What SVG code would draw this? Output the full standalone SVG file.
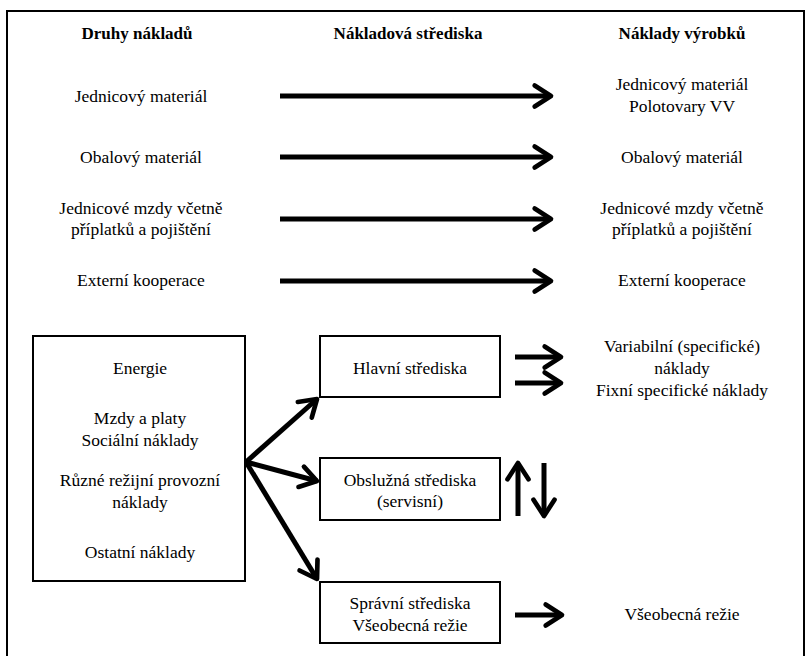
<svg xmlns="http://www.w3.org/2000/svg" width="811" height="656" viewBox="0 0 811 656">
<defs>
<marker id="ah" viewBox="0 0 12 12" refX="10" refY="6" markerWidth="5.6" markerHeight="5.6" markerUnits="strokeWidth" orient="auto">
<path d="M3,1.5 L10,6 L3,10.5" fill="none" stroke="#000" stroke-width="2" stroke-linecap="round" stroke-linejoin="round"/>
</marker>
</defs>
<style>
.box{fill:#fff;stroke:#000;stroke-width:2}
.c{fill:none;stroke:#000;stroke-width:5;marker-end:url(#ah)}
</style>
<rect x="0" y="0" width="811" height="656" fill="#fff"/>
<path d="M7,660 L7,11 L804,11 L804,660" fill="none" stroke="#000" stroke-width="2"/>
<g id="headers">
<text x="137" y="39" font-family="Liberation Serif, serif" font-size="17" font-weight="bold" text-anchor="middle">Druhy nákladů</text>
<text x="408" y="39" font-family="Liberation Serif, serif" font-size="17" font-weight="bold" text-anchor="middle">Nákladová střediska</text>
<text x="682" y="39" font-family="Liberation Serif, serif" font-size="17" font-weight="bold" text-anchor="middle">Náklady výrobků</text>
</g>
<g id="left-items">
<text x="141" y="102" font-family="Liberation Serif, serif" font-size="17.5" text-anchor="middle">Jednicový materiál</text>
<text x="141" y="163" font-family="Liberation Serif, serif" font-size="17.5" text-anchor="middle">Obalový materiál</text>
<text x="141" y="214" font-family="Liberation Serif, serif" font-size="17.5" text-anchor="middle">Jednicové mzdy včetně</text>
<text x="141" y="235" font-family="Liberation Serif, serif" font-size="17.5" text-anchor="middle">příplatků a pojištění</text>
<text x="141" y="286" font-family="Liberation Serif, serif" font-size="17.5" text-anchor="middle">Externí kooperace</text>
</g>
<g id="right-items">
<text x="682" y="90" font-family="Liberation Serif, serif" font-size="17.5" text-anchor="middle">Jednicový materiál</text>
<text x="682" y="112" font-family="Liberation Serif, serif" font-size="17.5" text-anchor="middle">Polotovary VV</text>
<text x="682" y="163" font-family="Liberation Serif, serif" font-size="17.5" text-anchor="middle">Obalový materiál</text>
<text x="682" y="214" font-family="Liberation Serif, serif" font-size="17.5" text-anchor="middle">Jednicové mzdy včetně</text>
<text x="682" y="235" font-family="Liberation Serif, serif" font-size="17.5" text-anchor="middle">příplatků a pojištění</text>
<text x="682" y="286" font-family="Liberation Serif, serif" font-size="17.5" text-anchor="middle">Externí kooperace</text>
<text x="682" y="352" font-family="Liberation Serif, serif" font-size="17.5" text-anchor="middle">Variabilní (specifické)</text>
<text x="682" y="374" font-family="Liberation Serif, serif" font-size="17.5" text-anchor="middle">náklady</text>
<text x="682" y="396" font-family="Liberation Serif, serif" font-size="17.5" text-anchor="middle">Fixní specifické náklady</text>
<text x="682" y="620" font-family="Liberation Serif, serif" font-size="17.5" text-anchor="middle">Všeobecná režie</text>
</g>
<g id="overheads">
<rect class="box" x="33" y="336" width="212" height="245"/>
<text x="140" y="374" font-family="Liberation Serif, serif" font-size="17.5" text-anchor="middle">Energie</text>
<text x="140" y="424" font-family="Liberation Serif, serif" font-size="17.5" text-anchor="middle">Mzdy a platy</text>
<text x="140" y="446" font-family="Liberation Serif, serif" font-size="17.5" text-anchor="middle">Sociální náklady</text>
<text x="140" y="486" font-family="Liberation Serif, serif" font-size="17.5" text-anchor="middle">Různé režijní provozní</text>
<text x="140" y="508" font-family="Liberation Serif, serif" font-size="17.5" text-anchor="middle">náklady</text>
<text x="140" y="558" font-family="Liberation Serif, serif" font-size="17.5" text-anchor="middle">Ostatní náklady</text>
</g>
<g id="hlavni">
<rect class="box" x="320" y="336" width="180" height="61"/>
<text x="410" y="374" font-family="Liberation Serif, serif" font-size="17.5" text-anchor="middle">Hlavní střediska</text>
</g>
<g id="obsluzna">
<rect class="box" x="320" y="458" width="180" height="62"/>
<text x="410" y="486" font-family="Liberation Serif, serif" font-size="17.5" text-anchor="middle">Obslužná střediska</text>
<text x="410" y="507" font-family="Liberation Serif, serif" font-size="17.5" text-anchor="middle">(servisní)</text>
</g>
<g id="spravni">
<rect class="box" x="320" y="582" width="180" height="61"/>
<text x="410" y="609" font-family="Liberation Serif, serif" font-size="17.5" text-anchor="middle">Správní střediska</text>
<text x="410" y="631" font-family="Liberation Serif, serif" font-size="17.5" text-anchor="middle">Všeobecná režie</text>
</g>
<g id="connectors">
<line class="c" x1="280" y1="96" x2="551" y2="96"/>
<line class="c" x1="280" y1="157" x2="551" y2="157"/>
<line class="c" x1="280" y1="219" x2="551" y2="219"/>
<line class="c" x1="280" y1="281" x2="551" y2="281"/>
<line class="c" x1="246" y1="462" x2="317" y2="399"/>
<line class="c" x1="246" y1="462" x2="317" y2="481"/>
<line class="c" x1="246" y1="462" x2="317" y2="579"/>
<line class="c" x1="515" y1="357" x2="561" y2="357"/>
<line class="c" x1="515" y1="383" x2="561" y2="383"/>
<line class="c" x1="518" y1="516" x2="518" y2="463"/>
<line class="c" x1="544" y1="463" x2="544" y2="516"/>
<line class="c" x1="515" y1="615" x2="562" y2="615"/>
</g>
</svg>
